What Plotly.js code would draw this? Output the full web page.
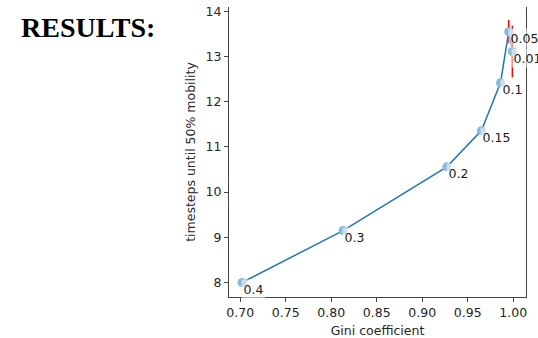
<!DOCTYPE html>
<html>
<head>
<meta charset="utf-8">
<script src="https://cdn.plot.ly/plotly-3.0.1.min.js"></script>
<style>html,body{margin:0;padding:0;background:#fff;}#chart{width:538px;height:338px;}</style>
</head>
<body>
<div id="chart"></div>
<script>
// Data (sorted by parameter)
const pointLabels = ["0.01", "0.05", "0.1", "0.15", "0.2", "0.3", "0.4"];
const gini = [0.999, 0.995, 0.986, 0.965, 0.927, 0.813, 0.702];
const timesteps = [13.11, 13.55, 12.42, 11.36, 10.56, 9.15, 8.0];
const stdErr = [0.57, 0.26, 0, 0, 0, 0, 0];
const xTicks = [0.70, 0.75, 0.80, 0.85, 0.90, 0.95, 1.00];
const yTicks = [8, 9, 10, 11, 12, 13, 14];

const font = "DejaVu Sans, sans-serif";
const fs = 12.5;

const traces = [
  {
    x: gini, y: timesteps, mode: "markers", type: "scatter",
    marker: {size: 1, color: "rgba(0,0,0,0)"},
    error_y: {type: "data", array: stdErr, visible: true, color: "#ff0000", thickness: 1.5, width: 0},
    hoverinfo: "skip", showlegend: false
  },
  {
    x: gini, y: timesteps, mode: "lines", type: "scatter",
    line: {color: "#1f77b4", width: 1.5},
    showlegend: false
  },
  {
    x: gini, y: timesteps, mode: "markers", type: "scatter",
    marker: {size: 9, color: "#8ab8da", line: {width: 0}},
    showlegend: false
  }
];

const annotations = pointLabels.map((t, i) => ({
  x: gini[i], y: timesteps[i], xref: "x", yref: "y",
  text: t, showarrow: false, xanchor: "left", yanchor: "middle",
  xshift: -1, yshift: -6,
  font: {family: font, size: fs, color: "#1a1a1a"},
  bgcolor: "rgba(255,255,255,0.55)", borderpad: 1.5
}));

annotations.push({
  xref: "paper", yref: "paper", x: (88 - 229) / 297, y: 1 - (27 - 7) / 290,
  text: "<b>RESULTS:</b>", showarrow: false,
  xanchor: "center", yanchor: "middle",
  font: {family: "Liberation Serif, serif", size: 28, color: "#000"}
});

const layout = {
  width: 538, height: 338,
  margin: {l: 229, r: 12, t: 7, b: 41, pad: 0},
  paper_bgcolor: "#fff", plot_bgcolor: "#fff",
  xaxis: {
    range: [0.6876, 1.014], tickvals: xTicks, tickformat: ".2f",
    showgrid: false, zeroline: false, showline: true, linecolor: "#444", linewidth: 1,
    ticks: "outside", ticklen: 4, tickcolor: "#444",
    tickfont: {family: font, size: fs, color: "#262626"},
    title: {text: "Gini coefficient", font: {family: font, size: fs, color: "#262626"}, standoff: 7}
  },
  yaxis: {
    range: [7.68, 14.095], tickvals: yTicks,
    showgrid: false, zeroline: false, showline: true, mirror: true, linecolor: "#444", linewidth: 1,
    ticks: "outside", ticklen: 4, tickcolor: "#444",
    tickfont: {family: font, size: fs, color: "#262626"},
    title: {text: "timesteps until 50% mobility", font: {family: font, size: fs, color: "#262626"}, standoff: 7}
  },
  annotations: annotations
};

Plotly.newPlot("chart", traces, layout, {displayModeBar: false, staticPlot: true});
</script>
</body>
</html>
